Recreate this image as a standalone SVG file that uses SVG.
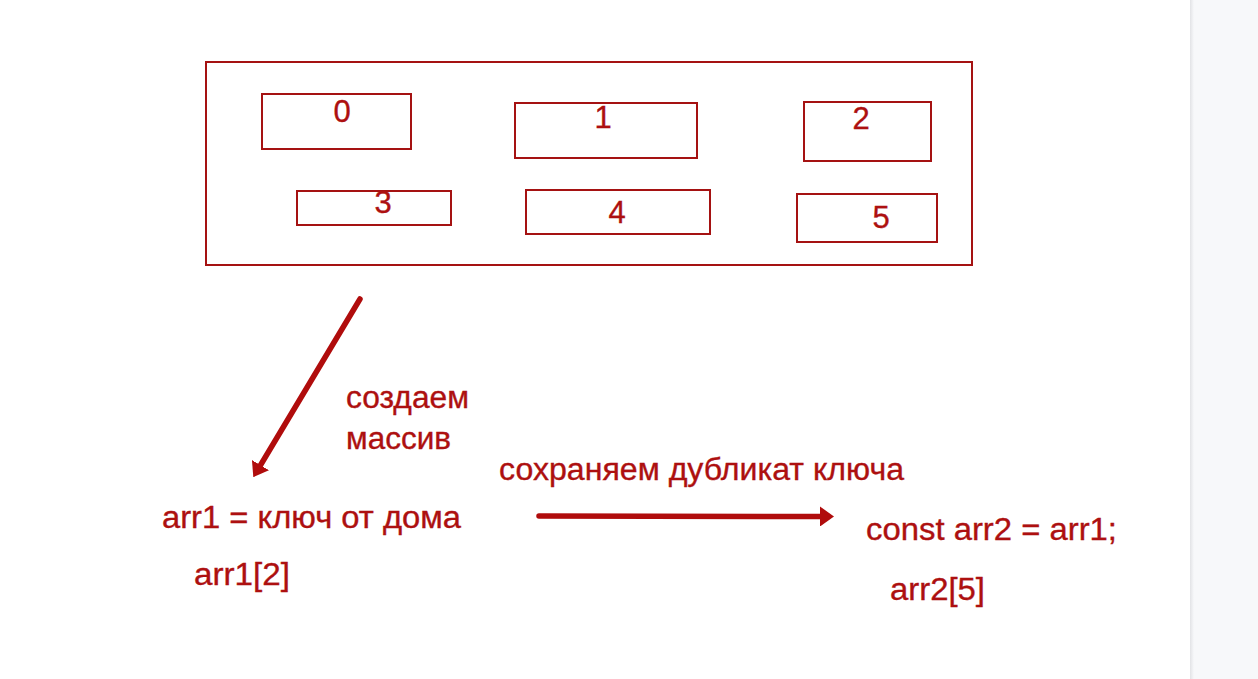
<svg xmlns="http://www.w3.org/2000/svg" width="1258" height="679" viewBox="0 0 1258 679">
<style>
.box{fill:none;stroke:#a51212;stroke-width:2}
.t{font-family:"Liberation Sans",Arial,sans-serif;font-size:31px;fill:#ad1010;stroke:#ad1010;stroke-width:0.35}
.d{text-anchor:middle}
.c{stroke:#b00c0c;stroke-width:5.5;fill:none;stroke-linecap:round}
</style>
<defs>
<marker id="ah" viewBox="0 0 14 20" refX="1" refY="10" markerWidth="14" markerHeight="20" markerUnits="userSpaceOnUse" orient="auto">
<path d="M0,0 L14,10 L0,20 Z" fill="#b00c0c"/>
</marker>
<linearGradient id="sh" x1="0" x2="1" y1="0" y2="0">
<stop offset="0" stop-color="#e2e3e6"/>
<stop offset="1" stop-color="#f7f8fa"/>
</linearGradient>
</defs>
<rect width="1258" height="679" fill="#ffffff"/>
<rect x="1190" y="0" width="68" height="679" fill="#f7f8fa"/>
<rect x="1190" y="0" width="4" height="679" fill="url(#sh)"/>
<g id="array">
<rect class="box" x="206" y="62" width="766" height="203"/>
</g>
<g id="cell0"><rect class="box" x="262" y="94" width="149" height="55"/><text class="t d" x="342" y="122">0</text></g>
<g id="cell1"><rect class="box" x="515" y="103" width="182" height="55"/><text class="t d" x="603" y="128">1</text></g>
<g id="cell2"><rect class="box" x="804" y="102" width="127" height="59"/><text class="t d" x="861" y="129">2</text></g>
<g id="cell3"><rect class="box" x="297" y="191" width="154" height="34"/><text class="t d" x="383" y="213">3</text></g>
<g id="cell4"><rect class="box" x="526" y="190" width="184" height="44"/><text class="t d" x="617" y="223">4</text></g>
<g id="cell5"><rect class="box" x="797" y="194" width="140" height="48"/><text class="t d" x="881" y="228">5</text></g>
<g id="connectors">
<line class="c" x1="360" y1="299" x2="260" y2="466" marker-end="url(#ah)"/>
<line class="c" x1="539" y1="516" x2="821" y2="516.5" marker-end="url(#ah)"/>
</g>
<g id="label-create"><text class="t" x="346" y="408" textLength="123" lengthAdjust="spacingAndGlyphs">создаем</text><text class="t" x="346" y="449" textLength="105" lengthAdjust="spacingAndGlyphs">массив</text></g>
<g id="label-copy"><text class="t" x="499" y="480" textLength="405" lengthAdjust="spacingAndGlyphs">сохраняем дубликат ключа</text></g>
<g id="arr1"><text class="t" x="162" y="528" textLength="299" lengthAdjust="spacingAndGlyphs">arr1 = ключ от дома</text><text class="t" x="194" y="585" textLength="96" lengthAdjust="spacingAndGlyphs">arr1[2]</text></g>
<g id="arr2"><text class="t" x="866" y="540" textLength="251" lengthAdjust="spacingAndGlyphs">const arr2 = arr1;</text><text class="t" x="890" y="600" textLength="95" lengthAdjust="spacingAndGlyphs">arr2[5]</text></g>
</svg>
